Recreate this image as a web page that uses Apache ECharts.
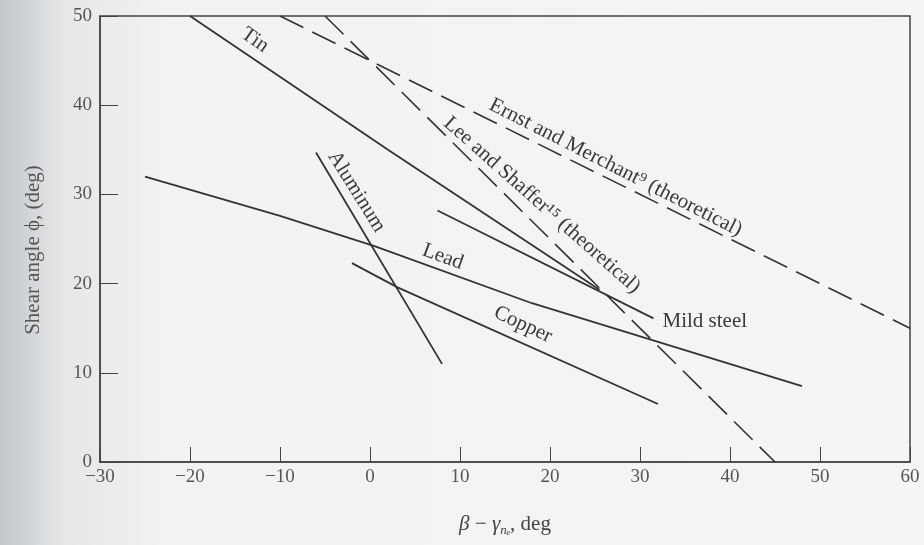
<!DOCTYPE html>
<html>
<head>
<meta charset="utf-8">
<script src="https://cdn.jsdelivr.net/npm/echarts@6/dist/echarts.min.js"></script>
<style>
  html, body { margin: 0; padding: 0; background: #f3f3f3; }
  #chart { width: 924px; height: 545px; }
</style>
</head>
<body>
<div id="chart"></div>
<script>
// x = beta - gamma (deg), y = shear angle (deg)
const xTicks = [-30, 60, 10];
const yTicks = [0, 50, 10];

const tin = [[-20, 50], [2, 35], [25.5, 19.3]];
const aluminum = [[-6, 34.7], [8, 11]];
const lead = [[-25, 32], [-10, 27.6], [0.5, 24.2], [18, 17.8], [48, 8.5]];
const copper = [[-2, 22.3], [3, 19.6], [32, 6.5]];
const mildSteel = [[7.5, 28.2], [31.5, 16.1]];
const ernstMerchant = [[-10, 50], [60, 15]];
const leeShaffer = [[-5, 50], [45, 0]];

// label text, anchor (data coords), angle in degrees (clockwise)
const labelNames = ['Tin', 'Aluminum', 'Lead', 'Copper', 'Mild steel',
  'Ernst and Merchant\u2079 (theoretical)', 'Lee and Shaffer\u00b9\u2075 (theoretical)'];
const labelAnchors = [[-12.8, 47.3], [-1.5, 30.3], [8.1, 23], [17, 15.4], [37.2, 15.8], [27.3, 33], [19.1, 28.8]];
const labelAngles = [35, 58, 20, 25, 0, 27, 41.5];

const ink = '#333';
const serif = '"Liberation Serif", "DejaVu Serif", serif';

function solid(name, data) {
  return {
    name: name, type: 'line', data: data, symbol: 'none', silent: true,
    lineStyle: { color: ink, width: 1.8 }
  };
}
function dashed(name, data) {
  return {
    name: name, type: 'line', data: data, symbol: 'none', silent: true,
    lineStyle: { color: ink, width: 1.6, type: [26, 10] }
  };
}

const chart = echarts.init(document.getElementById('chart'));
chart.setOption({
  backgroundColor: {
    type: 'linear', x: 0, y: 0, x2: 1, y2: 0,
    colorStops: [
      { offset: 0, color: '#c3c7cb' },
      { offset: 0.07, color: '#e6e7e8' },
      { offset: 0.18, color: '#f2f2f2' },
      { offset: 1, color: '#f5f5f5' }
    ]
  },
  animation: false,
  grid: {
    left: 100, right: 14, top: 16, bottom: 83,
    show: true, borderColor: '#444', borderWidth: 1.5, backgroundColor: 'transparent'
  },
  xAxis: {
    type: 'value', min: xTicks[0], max: xTicks[1], interval: xTicks[2],
    name: '{it|\u03b2} \u2212 {it|\u03b3}{sub|n\u2091}, deg',
    nameLocation: 'middle', nameGap: 50,
    nameTextStyle: {
      fontFamily: serif, fontSize: 21, color: '#444',
      rich: {
        it: { fontFamily: serif, fontSize: 21, fontStyle: 'italic', color: '#444' },
        sub: { fontFamily: serif, fontSize: 13, fontStyle: 'italic', color: '#444', padding: [12, 0, 0, 0] }
      }
    },
    axisLine: { onZero: false, lineStyle: { color: '#444', width: 1.5 } },
    axisTick: { inside: true, length: 15, lineStyle: { color: '#444' } },
    axisLabel: {
      fontFamily: serif, fontSize: 19, color: '#555', margin: 6,
      formatter: function (v) { return String(v).replace('-', '\u2212'); }
    },
    splitLine: { show: false }
  },
  yAxis: {
    type: 'value', min: yTicks[0], max: yTicks[1], interval: yTicks[2],
    name: 'Shear angle \u03d5, (deg)',
    nameLocation: 'middle', nameGap: 56, nameRotate: 90,
    nameTextStyle: { fontFamily: serif, fontSize: 21, color: '#555', padding: [0, 22, 0, 0] },
    axisLine: { onZero: false, lineStyle: { color: '#444', width: 1.5 } },
    axisTick: { inside: true, length: 18, lineStyle: { color: '#444' } },
    axisLabel: { fontFamily: serif, fontSize: 19, color: '#555', margin: 8 },
    splitLine: { show: false }
  },
  series: [
    solid('Tin', tin),
    solid('Aluminum', aluminum),
    solid('Lead', lead),
    solid('Copper', copper),
    solid('Mild steel', mildSteel),
    dashed('Ernst and Merchant', ernstMerchant),
    dashed('Lee and Shaffer', leeShaffer)
  ]
});

const graphics = labelNames.map(function (t, i) {
  const p = chart.convertToPixel({ gridIndex: 0 }, labelAnchors[i]);
  return {
    type: 'text', x: p[0], y: p[1],
    rotation: -labelAngles[i] * Math.PI / 180,
    style: {
      text: t, fontFamily: serif, fontSize: 21, fill: '#3a3a3a',
      align: 'center', verticalAlign: 'middle'
    },
    z: 10
  };
});
chart.setOption({ graphic: graphics });
</script>
</body>
</html>
